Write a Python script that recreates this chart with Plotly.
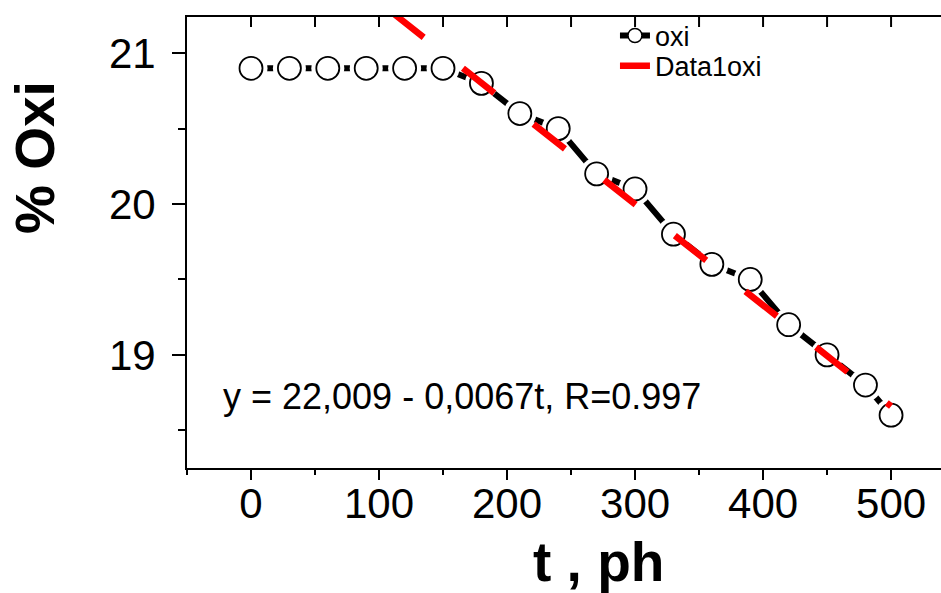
import plotly.graph_objects as go

# ---- data ----
t_ph = [0, 30, 60, 90, 120, 150, 180, 210, 240, 270, 300, 330, 360, 390, 420, 450, 480, 500]
oxi = [20.9, 20.9, 20.9, 20.9, 20.9, 20.9, 20.8, 20.6, 20.5, 20.2, 20.1, 19.8, 19.6, 19.5, 19.2, 19.0, 18.8, 18.6]
fit_t = [0, 500]
fit_oxi = [22.009, 18.659]
eq_text = "y = 22,009 - 0,0067t, R=0.997"
x_ticks = [0, 100, 200, 300, 400, 500]
top_ticks = [0, 50, 100, 150, 200, 250, 300, 350, 400, 450, 500]
y_ticks = [19, 20, 21]

FONT = "Arial, Liberation Sans, sans-serif"
PLOT_H = 593 - 17 - 125

fig = go.Figure()

# black connecting line (below markers)
fig.add_trace(go.Scatter(x=t_ph, y=oxi, mode="lines",
                         line=dict(color="black", width=6),
                         showlegend=False, hoverinfo="skip"))
# white halo around symbols (line gap)
fig.add_trace(go.Scatter(x=t_ph, y=oxi, mode="markers",
                         marker=dict(color="white", size=33, line=dict(width=0)),
                         showlegend=False, hoverinfo="skip"))
# open circles
fig.add_trace(go.Scatter(x=t_ph, y=oxi, mode="markers",
                         marker=dict(color="white", size=23, symbol="circle",
                                     line=dict(color="black", width=1.8)),
                         showlegend=False))
# linear fit (red dashed)
fig.add_trace(go.Scatter(x=fit_t, y=fit_oxi, mode="lines", name="Data1oxi",
                         line=dict(color="red", width=6.5, dash="40px,50px"),
                         legend="legend2"))
# legend entry for the data series
fig.add_trace(go.Scatter(x=[None], y=[None], mode="lines+markers", name="oxi",
                         line=dict(color="black", width=6),
                         marker=dict(color="white", size=14,
                                     line=dict(color="black", width=1.5)),
                         legend="legend"))

axis_common = dict(showgrid=False, zeroline=False, showline=True,
                   linecolor="black", linewidth=2,
                   tickcolor="black", tickwidth=2, automargin=False,
                   tickfont=dict(family=FONT, size=42, color="black"))

legend_common = dict(xanchor="left", yanchor="middle",
                     bgcolor="rgba(0,0,0,0)", borderwidth=0,
                     font=dict(family=FONT, size=27, color="black"))

fig.update_layout(
    width=941, height=593,
    margin=dict(l=187, r=0, t=17, b=125, autoexpand=False),
    paper_bgcolor="white", plot_bgcolor="white",
    font=dict(family=FONT, color="black"),
    xaxis=dict(range=[-50, 539], tickmode="array", tickvals=x_ticks,
               ticks="outside", ticklen=10, ticklabelstandoff=-12, mirror=True,
               minor=dict(dtick=50, tick0=0, ticks="outside", ticklen=5,
                          tickwidth=2, tickcolor="black"),
               **axis_common),
    yaxis=dict(range=[18.25, 21.24], tickmode="array", tickvals=y_ticks,
               ticks="outside", ticklen=13, ticklabelstandoff=8,
               minor=dict(dtick=0.5, tick0=0, ticks="outside", ticklen=7,
                          tickwidth=2, tickcolor="black"),
               **axis_common),
    legend=dict(x=0.5676, y=0.958, **legend_common),
    legend2=dict(x=0.5676, y=0.891, **legend_common),
    showlegend=True,
)

# inward-pointing ticks along the top frame
for v in top_ticks:
    fig.add_shape(type="line", xref="x", yref="paper", x0=v, x1=v,
                  y0=1, y1=1 - 10 / PLOT_H,
                  line=dict(color="black", width=2), layer="above")

fig.add_annotation(text="<b>% Oxi</b>", xref="paper", yref="paper",
                   x=-0.2016, y=0.6896, xanchor="center", yanchor="middle",
                   textangle=-90, showarrow=False,
                   font=dict(family=FONT, size=55, color="black"))
fig.add_annotation(text="<b>t , ph</b>", xref="paper", yref="paper",
                   x=0.5464, y=-0.2084, xanchor="center", yanchor="middle",
                   showarrow=False,
                   font=dict(family=FONT, size=55, color="black"))
fig.add_annotation(text=eq_text, xref="paper", yref="paper",
                   x=0.3647, y=0.158, xanchor="center", yanchor="middle",
                   showarrow=False,
                   font=dict(family=FONT, size=36, color="black"))

fig.write_html("out.html",
               config={"displayModeBar": False},
               post_script="document.body.style.margin='0px';"
                           "document.body.style.overflow='hidden';")
